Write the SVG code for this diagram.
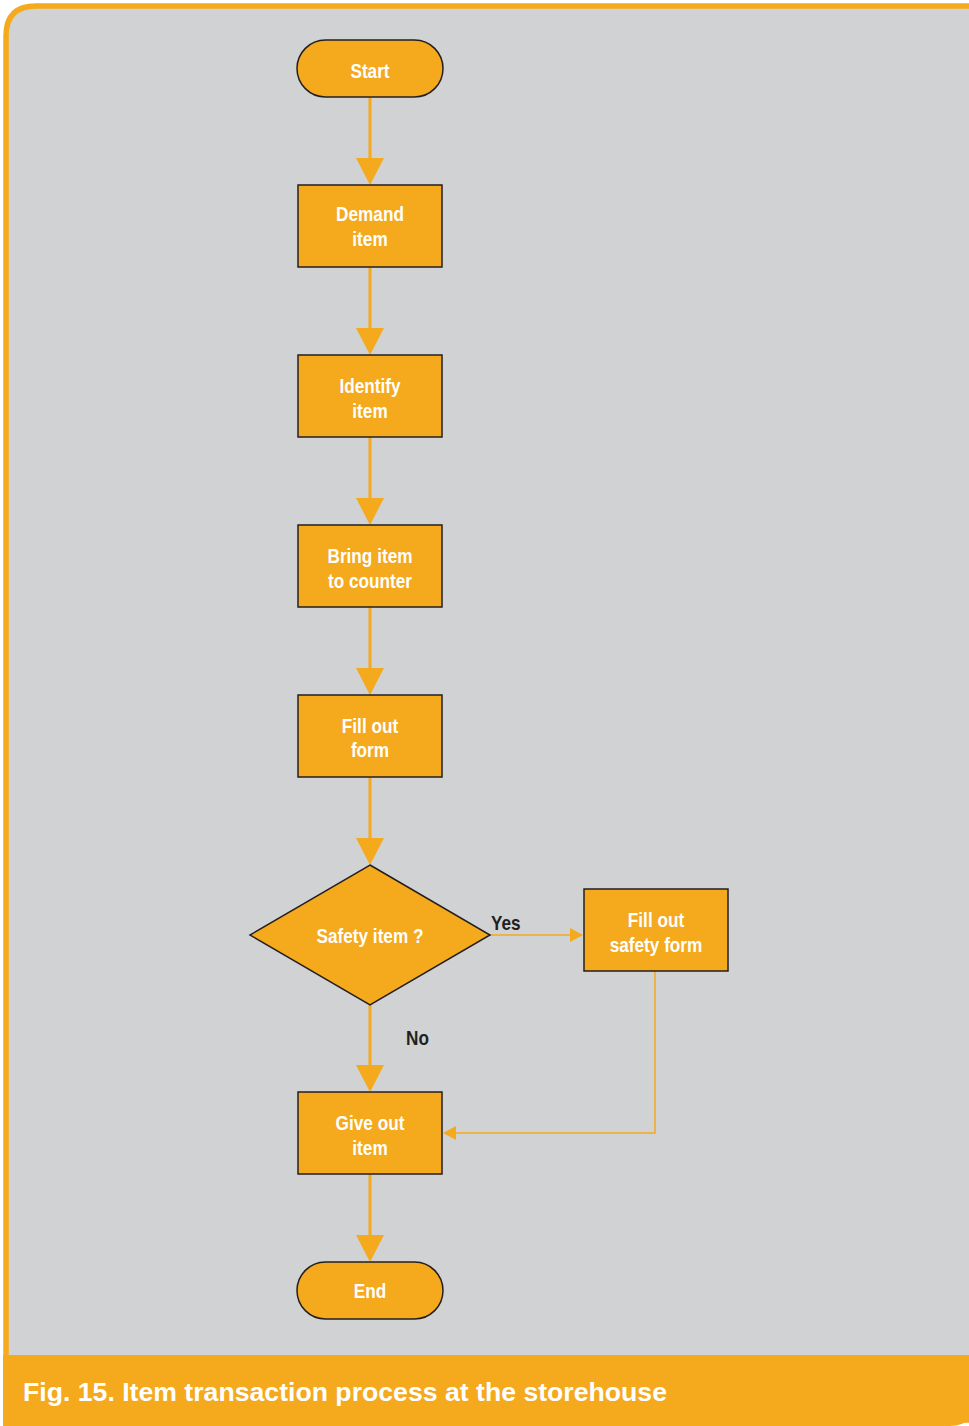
<svg xmlns="http://www.w3.org/2000/svg" width="969" height="1426" viewBox="0 0 969 1426">
<defs>
<style>
.node{fill:#F5A91D;stroke:#231F20;stroke-width:1.5}
.ntext{font-family:"Liberation Sans",Arial,sans-serif;font-weight:bold;font-size:20px;fill:#FFFFFF;text-anchor:middle}
.lbl{font-family:"Liberation Sans",Arial,sans-serif;font-weight:bold;font-size:20px;fill:#231F20}
.main{stroke:#F5A91D;stroke-width:3;fill:none}
.thin{stroke:#F5A91D;stroke-width:1.5;fill:none}
.head{fill:#F5A91D}
</style>
</defs>
<rect width="969" height="1426" fill="#FFFFFF"/>
<path d="M975,6 L36,6 Q6,6 6,36 L6,1420 L975,1420 Z" fill="#D1D2D4" stroke="#F5A91D" stroke-width="5.5"/>
<path d="M3,1355 L975,1355 L975,1400 Q975,1426 950,1426 L3,1426 Z" fill="#F5A91D"/>
<text x="23" y="1401" font-family="Liberation Sans,Arial,sans-serif" font-weight="bold" font-size="25" fill="#FFFFFF" textLength="644" lengthAdjust="spacingAndGlyphs">Fig. 15. Item transaction process at the storehouse</text>

<g id="connectors">
<line class="main" x1="370" y1="97" x2="370" y2="160"/>
<polygon class="head" points="356,158 384,158 370,185"/>
<line class="main" x1="370" y1="267" x2="370" y2="330"/>
<polygon class="head" points="356,328 384,328 370,355"/>
<line class="main" x1="370" y1="437" x2="370" y2="500"/>
<polygon class="head" points="356,498 384,498 370,525"/>
<line class="main" x1="370" y1="607" x2="370" y2="670"/>
<polygon class="head" points="356,668 384,668 370,695"/>
<line class="main" x1="370" y1="777" x2="370" y2="840"/>
<polygon class="head" points="356,838 384,838 370,865"/>
<line class="main" x1="370" y1="1005" x2="370" y2="1067"/>
<polygon class="head" points="356,1065 384,1065 370,1092"/>
<line class="main" x1="370" y1="1174" x2="370" y2="1237"/>
<polygon class="head" points="356,1235 384,1235 370,1262"/>
<line class="thin" x1="490" y1="935" x2="572" y2="935"/>
<polygon class="head" points="570,928 570,942 583,935"/>
<polyline class="thin" points="655,971 655,1133 455,1133"/>
<polygon class="head" points="456,1126 456,1140 443,1133"/>
<text class="lbl" transform="translate(491 930) scale(0.86 1)">Yes</text>
<text class="lbl" transform="translate(406 1045) scale(0.86 1)">No</text>
</g>

<g id="start"><rect class="node" x="297" y="40" width="146" height="57" rx="28.5"/><text class="ntext" transform="translate(370 78) scale(0.86 1)">Start</text></g>
<g id="demand"><rect class="node" x="298" y="185" width="144" height="82"/><text class="ntext" transform="translate(370 221) scale(0.86 1)">Demand</text><text class="ntext" transform="translate(370 246) scale(0.86 1)">item</text></g>
<g id="identify"><rect class="node" x="298" y="355" width="144" height="82"/><text class="ntext" transform="translate(370 393) scale(0.86 1)">Identify</text><text class="ntext" transform="translate(370 418) scale(0.86 1)">item</text></g>
<g id="bring"><rect class="node" x="298" y="525" width="144" height="82"/><text class="ntext" transform="translate(370 563) scale(0.86 1)">Bring item</text><text class="ntext" transform="translate(370 588) scale(0.86 1)">to counter</text></g>
<g id="fillform"><rect class="node" x="298" y="695" width="144" height="82"/><text class="ntext" transform="translate(370 733) scale(0.86 1)">Fill out</text><text class="ntext" transform="translate(370 757) scale(0.86 1)">form</text></g>
<g id="safety"><polygon class="node" points="370,865 490,935 370,1005 250,935"/><text class="ntext" transform="translate(370 943) scale(0.86 1)">Safety item ?</text></g>
<g id="safetyform"><rect class="node" x="584" y="889" width="144" height="82"/><text class="ntext" transform="translate(656 927) scale(0.86 1)">Fill out</text><text class="ntext" transform="translate(656 952) scale(0.86 1)">safety form</text></g>
<g id="giveout"><rect class="node" x="298" y="1092" width="144" height="82"/><text class="ntext" transform="translate(370 1130) scale(0.86 1)">Give out</text><text class="ntext" transform="translate(370 1155) scale(0.86 1)">item</text></g>
<g id="end"><rect class="node" x="297" y="1262" width="146" height="57" rx="28.5"/><text class="ntext" transform="translate(370 1298) scale(0.86 1)">End</text></g>
</svg>
